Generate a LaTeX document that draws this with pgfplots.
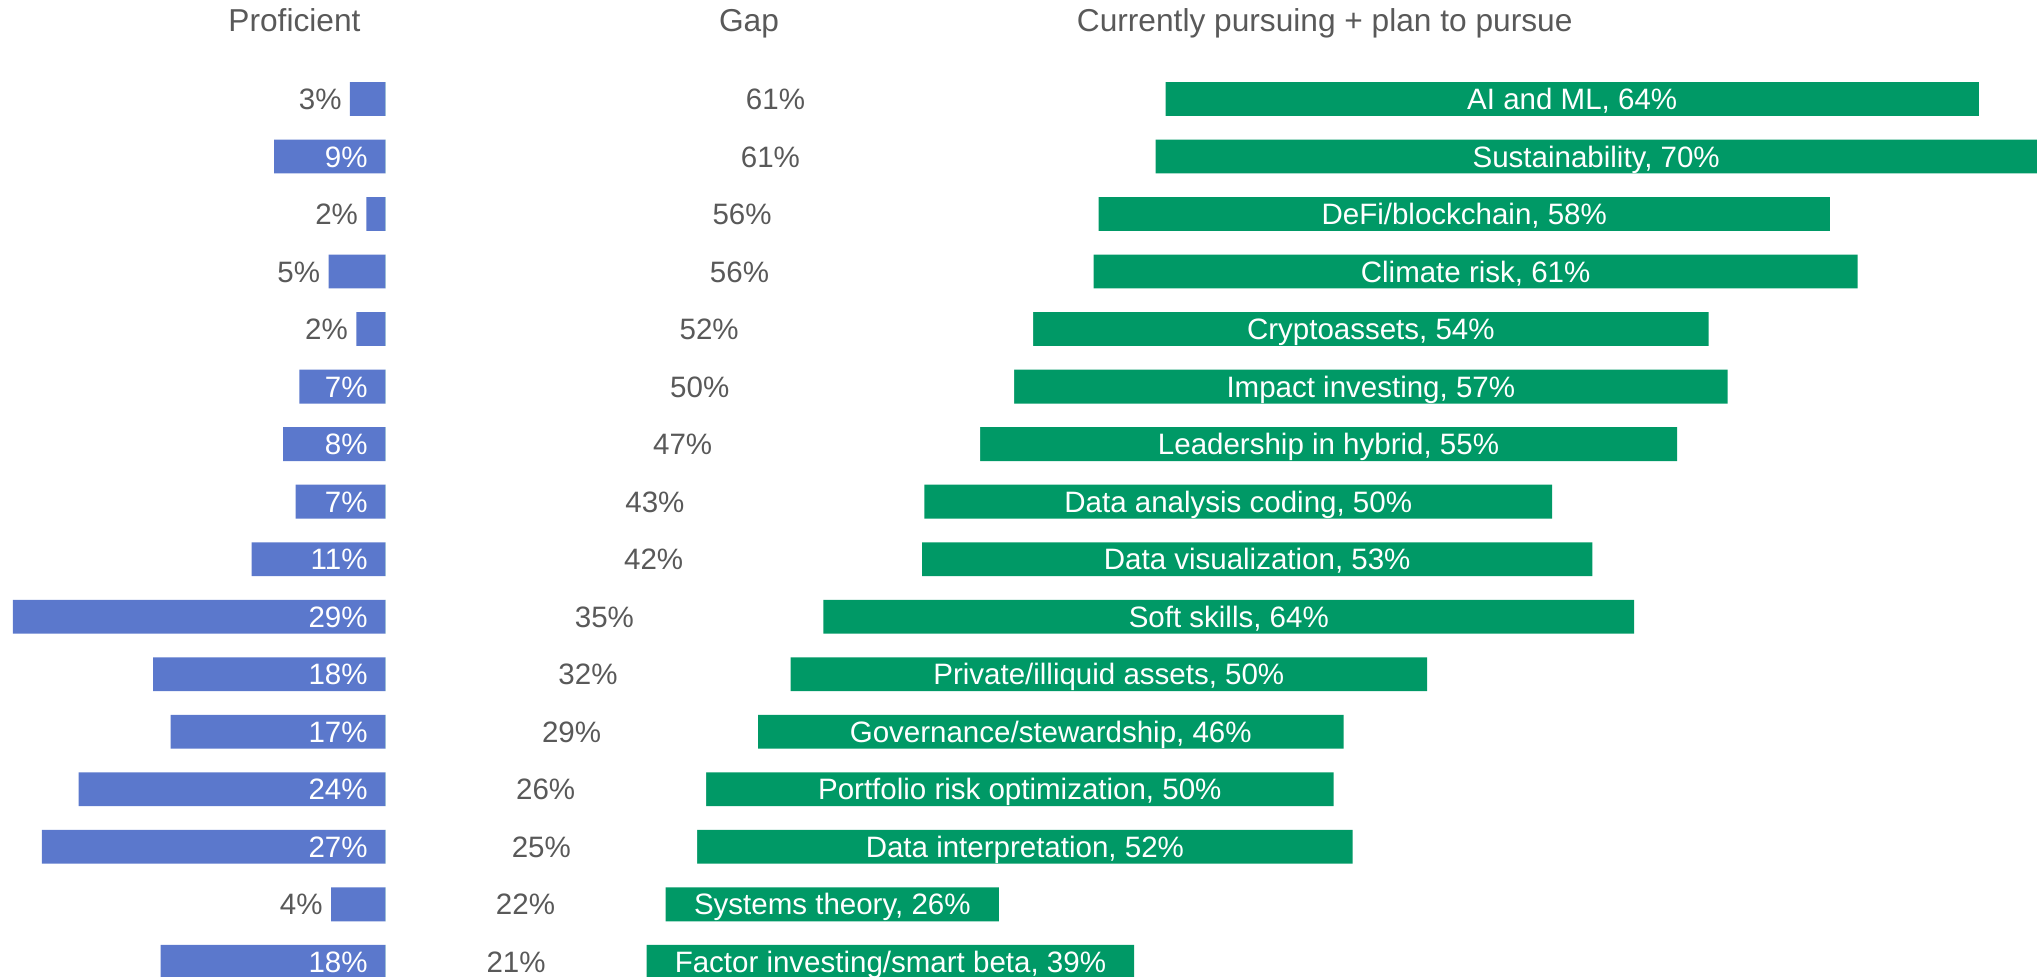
\documentclass[border=0pt]{standalone}
\usepackage{pgfplots}
\pgfplotsset{compat=1.18}
\usepackage{pgfplotstable}
\usepackage{fontspec}
\setmainfont{Liberation Sans}
\definecolor{profblue}{HTML}{5B78CC}
\definecolor{pursgreen}{HTML}{009966}
\definecolor{txtgray}{HTML}{595959}

\tikzset{lbl/.style={font=\fontsize{6.8}{8}\selectfont, inner sep=0pt, text height=4.87pt, text depth=0pt}}

\pgfplotstableread[col sep=semicolon]{
row;prof;gap;pursue;pin;proflab;gaplab;name
1;2.8;61.8;64.4;0;3;61;AI and ML, 64
2;8.8;61.0;69.8;1;9;61;Sustainability, 70
3;1.5;56.5;57.9;0;2;56;DeFi/blockchain, 58
4;4.5;56.1;60.5;0;5;56;Climate risk, 61
5;2.3;51.3;53.5;0;2;52;Cryptoassets, 54
6;6.8;49.8;56.5;1;7;50;Impact investing, 57
7;8.1;47.1;55.2;1;8;47;Leadership in hybrid, 55
8;7.1;42.7;49.7;1;7;43;Data analysis coding, 50
9;10.6;42.5;53.1;1;11;42;Data visualization, 53
10;29.5;34.7;64.2;1;29;35;Soft skills, 64
11;18.4;32.1;50.4;1;18;32;Private/illiquid assets, 50
12;17.0;29.5;46.4;1;17;29;Governance/stewardship, 46
13;24.3;25.4;49.7;1;24;26;Portfolio risk optimization, 50
14;27.2;24.7;51.9;1;27;25;Data interpretation, 52
15;4.3;22.2;26.4;0;4;22;Systems theory, 26
16;17.8;20.7;38.6;1;18;21;Factor investing/smart beta, 39
}\skills

\begin{document}
\begin{tikzpicture}
\begin{axis}[
  scale only axis, width=470.4pt, height=225pt,
  xmin=-30.52, xmax=131.13, ymin=-0.72, ymax=16.25,
  y dir=reverse, hide axis, clip=true,
]
\coordinate (SW) at (rel axis cs:0,0);
\coordinate (NE) at (rel axis cs:1,1);
% green bars from 0 to gap+pursue, then white overlay for the gap
\addplot[xbar, bar width=0.588, bar shift=0pt, fill=pursgreen, draw=none]
  table[x expr=\thisrow{gap}+\thisrow{pursue}, y=row] {\skills};
\addplot[xbar, bar width=0.62, bar shift=0pt, fill=white, draw=none]
  table[x=gap, y=row] {\skills};
% proficient bars
\addplot[xbar, bar width=0.588, bar shift=0pt, fill=profblue, draw=none]
  table[x expr=-\thisrow{prof}, y=row] {\skills};
% proficient labels inside the bar
\addplot[draw=none, mark=none, restrict x to domain=-40:140,
  point meta=explicit symbolic, nodes near coords={\pgfplotspointmeta\%},
  nodes near coords style={lbl, anchor=east, text=white}]
  table[x expr={\thisrow{pin}>0.5 ? -1.34 : -1000}, y=row, meta=proflab] {\skills};
% proficient labels outside the bar
\addplot[draw=none, mark=none, restrict x to domain=-40:140,
  point meta=explicit symbolic, nodes near coords={\pgfplotspointmeta\%},
  nodes near coords style={lbl, anchor=east, text=txtgray}]
  table[x expr={\thisrow{pin}>0.5 ? -1000 : -\thisrow{prof}-0.6}, y=row, meta=proflab] {\skills};
% gap labels
\addplot[draw=none, mark=none,
  point meta=explicit symbolic, nodes near coords={\pgfplotspointmeta\%},
  nodes near coords style={lbl, anchor=center, text=txtgray}]
  table[x expr=\thisrow{gap}/2, y=row, meta=gaplab] {\skills};
% green labels
\addplot[draw=none, mark=none,
  point meta=explicit symbolic, nodes near coords={\pgfplotspointmeta\%},
  nodes near coords style={lbl, anchor=center, text=white}]
  table[x expr=\thisrow{gap}+\thisrow{pursue}/2, y=row, meta=name] {\skills};
% headers
\node[anchor=base, font=\fontsize{7.3}{9}\selectfont, text=txtgray, inner sep=0pt] at (axis cs:-7.2,-0.17) {Proficient};
\node[anchor=base, font=\fontsize{7.3}{9}\selectfont, text=txtgray, inner sep=0pt] at (axis cs:28.8,-0.17) {Gap};
\node[anchor=base, font=\fontsize{7.3}{9}\selectfont, text=txtgray, inner sep=0pt] at (axis cs:74.4,-0.17) {Currently pursuing + plan to pursue};
\end{axis}
\pgfresetboundingbox
\useasboundingbox (SW) rectangle (NE);
\end{tikzpicture}
\end{document}
